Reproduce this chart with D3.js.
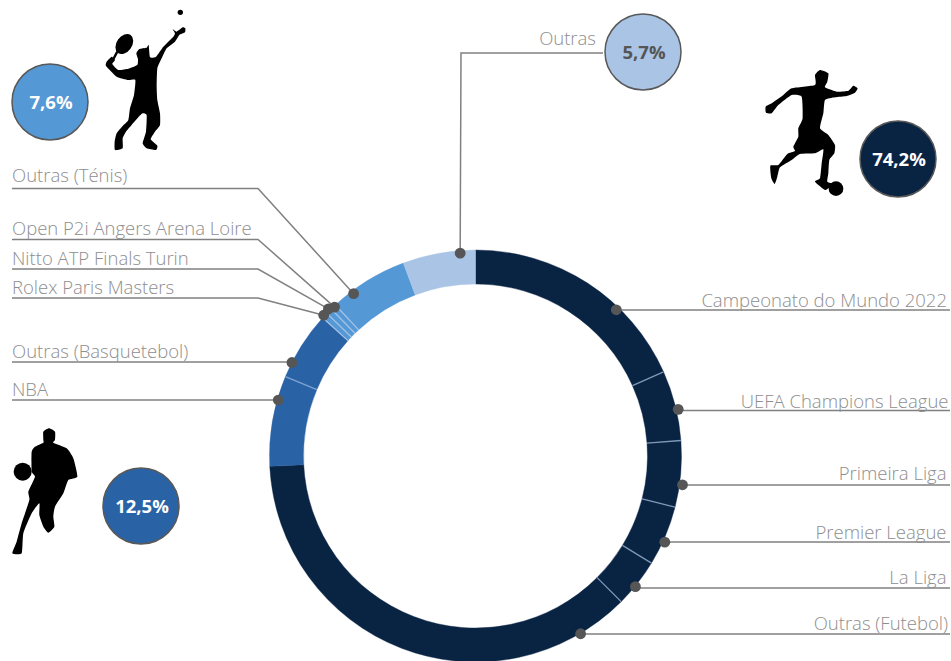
<!DOCTYPE html>
<html>
<head>
<meta charset="utf-8">
<script src="https://cdn.jsdelivr.net/npm/d3@7"></script>
<style>
  html, body { margin: 0; padding: 0; background: #fff; }
  svg { display: block; font-family: "Open Sans", sans-serif; }
</style>
</head>
<body>
<svg id="chart"></svg>
<script>
// slices, clockwise from 12 o'clock
const names = ['Campeonato do Mundo 2022', 'UEFA Champions League', 'Primeira Liga', 'Premier League', 'La Liga', 'Outras (Futebol)',
  'NBA', 'Outras (Basquetebol)',
  'Rolex Paris Masters', 'Nitto ATP Finals Turin', 'Open P2i Angers Arena Loire', 'Outras (Ténis)',
  'Outras']
const values = [18.3, 5.5, 5.2, 4.7, 3.8, 36.7, 7.1, 5.4, 0.47, 0.47, 0.46, 6.2, 5.7]
const sports = ['f', 'f', 'f', 'f', 'f', 'f', 'b', 'b', 't', 't', 't', 't', 'o']
// where each leader touches the ring, in % of the ring
const pointerAt = [12.2, 21.4, 27.2, 31.8, 35.9, 41.5, 79.4, 82.5, 86.9, 87.5, 87.94, 89.75, 98.8]

const sportKeys = ['f', 'b', 't', 'o']
const sportTotals = ['74,2%', '12,5%', '7,6%', '5,7%']
const sportColors = ['#092343', '#2a62a6', '#5598d6', '#a9c4e5']

// layout of the leader lines, same order as names
const pointerR = [203, 208, 209, 208, 206.5, 206.5, 205, 206, 207, 208, 205, 203, 203.5]
const labelY = [310, 410.5, 485, 542, 588, 634, 400, 362, 298, 269, 239.5, 188.5, 53]
const baseY = [307, 408, 480, 539, 584, 630, 395.5, 358, 293.5, 265, 235, 182, 45]
const endX = [947, 948.5, 946.5, 946.5, 946.5, 948]
const elbowX = [null, null, null, null, null, null, null, null, 258, 258, 258, 258, 461]

const bubbles = { f: [898, 159], b: [141, 506], t: [50, 102], o: [643, 52] }

const tennisBody = [[518,88],[530,95],[548,82],[556,85],[555,97],[538,105],[525,125],[500,145],[485,175],[472,205],[470,260],[472,300],[480,340],[480,375],[465,395],[452,418],[472,437],[468,450],[440,445],[428,430],[438,395],[440,345],[428,340],[415,352],[395,375],[378,395],[368,415],[368,445],[345,450],[344,425],[350,400],[368,378],[385,360],[390,325],[402,285],[406,240],[385,240],[350,230],[318,198],[320,185],[335,170],[345,180],[337,192],[355,210],[385,206],[412,195],[414,178],[409,160],[418,147],[440,143],[446,135],[450,172],[468,170],[490,140],[520,110],[525,100]]
const footballBody = [[345,105],[345,75],[360,60],[385,70],[382,95],[375,112],[410,125],[445,122],[460,107],[473,115],[465,128],[440,138],[405,142],[375,150],[370,190],[360,235],[385,255],[405,285],[403,310],[388,330],[385,370],[382,395],[400,402],[385,415],[375,420],[345,395],[360,385],[365,340],[370,298],[345,310],[300,312],[275,330],[240,352],[232,380],[224,402],[214,385],[211,347],[235,345],[262,312],[285,303],[280,290],[295,260],[295,235],[308,205],[305,140],[275,135],[235,165],[215,190],[198,188],[197,170],[215,160],[250,135],[275,115]]
const basketBody = [[130,90],[130,65],[147,55],[165,65],[165,90],[160,98],[200,115],[220,145],[232,200],[205,210],[190,250],[165,290],[160,320],[163,350],[145,368],[130,350],[118,315],[118,280],[95,310],[70,370],[65,430],[37,430],[50,395],[65,340],[88,270],[85,245],[105,200],[95,185],[95,125],[105,110],[130,98]]

const width = 951, height = 661
const cx = 475.5, cy = 456, outer = 206, inner = 172
const textGrey = '#8e8e8e', lineGrey = '#808080', dotGrey = '#565656'

const svg = d3.select('#chart').attr('width', width).attr('height', height)
const color = d3.scaleOrdinal().domain(sportKeys).range(sportColors)
const angle = d3.scaleLinear().domain([0, 100]).range([0, 2 * Math.PI])

const ring = svg.append('g').attr('transform', `translate(${cx},${cy})`)
const pie = d3.pie().value(d => d).sort(null).padAngle(0)
const arc = d3.arc().innerRadius(inner).outerRadius(outer)
const slices = pie(values)

ring.selectAll('.slice').data(slices).enter()
  .append('path')
  .attr('class', 'slice')
  .attr('d', arc)
  .attr('fill', (d, i) => color(sports[i]))
  .attr('stroke', (d, i) => color(sports[i]))
  .attr('stroke-width', 0.4)

// thin separators between slices of one sport (and basket / tennis)
const seps = slices.filter((d, i) => i < slices.length - 1 && (sports[i] === sports[i + 1] || sports[i] === 'b' && sports[i + 1] === 't'))
ring.selectAll('.sep').data(seps).enter()
  .append('line')
  .attr('class', 'sep')
  .attr('x1', d => inner * Math.sin(d.endAngle))
  .attr('y1', d => -inner * Math.cos(d.endAngle))
  .attr('x2', d => outer * Math.sin(d.endAngle))
  .attr('y2', d => -outer * Math.cos(d.endAngle))
  .attr('stroke', d => d.index >= 7 ? '#a3c3e6' : d.index === 6 ? '#7fa3d0' : '#7f97b8')
  .attr('stroke-width', 1.3)

// leaders
const dotPos = pointerAt.map((p, i) => [cx + pointerR[i] * Math.sin(angle(p)), cy - pointerR[i] * Math.cos(angle(p))])

const leader = names.map((n, i) => {
  const [dx, dy] = dotPos[i]
  if (i < 6) return [[dx, labelY[i]], [950, labelY[i]]]
  if (i < 8) return [[12, labelY[i]], [dx, labelY[i]]]
  if (i < 12) return [[12, labelY[i]], [elbowX[i], labelY[i]], [dx, dy]]
  return [[603, labelY[i]], [elbowX[i], labelY[i]], [dx, dy]]
})

svg.selectAll('.leader').data(leader).enter()
  .append('path')
  .attr('class', 'leader')
  .attr('d', d3.line())
  .attr('fill', 'none')
  .attr('stroke', lineGrey)
  .attr('stroke-width', 1.5)

svg.selectAll('.dot').data(dotPos).enter()
  .append('circle')
  .attr('class', 'dot')
  .attr('cx', d => d[0])
  .attr('cy', d => d[1])
  .attr('r', 5.4)
  .attr('fill', dotGrey)

svg.selectAll('.label').data(names).enter()
  .append('text')
  .attr('class', 'label')
  .attr('x', (d, i) => i < 6 ? endX[i] : i < 12 ? 12 : 596)
  .attr('y', (d, i) => baseY[i])
  .attr('text-anchor', (d, i) => i < 6 || i === 12 ? 'end' : 'start')
  .attr('font-size', 18.5)
  .attr('font-weight', 300)
  .attr('fill', textGrey)
  .text(d => d)

// sport totals
const bubble = svg.selectAll('.bubble').data(sportKeys).enter()
  .append('g')
  .attr('class', 'bubble')
  .attr('transform', d => `translate(${bubbles[d]})`)
bubble.append('circle')
  .attr('r', 38)
  .attr('fill', d => color(d))
  .attr('stroke', '#585858')
  .attr('stroke-width', 1.5)
bubble.append('text')
  .attr('text-anchor', 'middle')
  .attr('dx', 1)
  .attr('dy', 6.5)
  .attr('font-size', 18.5)
  .attr('font-weight', 700)
  .attr('fill', d => d === 'o' ? '#555' : '#fff')
  .text((d, i) => sportTotals[i])

// silhouettes
const outline = d3.line().curve(d3.curveCardinalClosed.tension(0.5))
const fig = (x, y) => svg.append('g').attr('transform', `translate(${x},${y}) scale(${1 / 3})`)

const tennis = fig(0, 0)
tennis.append('path').attr('d', outline(tennisBody))
tennis.append('circle').attr('cx', 541).attr('cy', 37).attr('r', 8)
tennis.append('ellipse').attr('cx', 373).attr('cy', 132).attr('rx', 23).attr('ry', 33).attr('transform', 'rotate(35 373 132)')
tennis.append('line').attr('x1', 336).attr('y1', 185).attr('x2', 352).attr('y2', 155).attr('stroke', '#000').attr('stroke-width', 7)

const football = fig(700, 50)
football.append('path').attr('d', outline(footballBody))
football.append('circle').attr('cx', 408).attr('cy', 416).attr('r', 22)

const basket = fig(0, 410)
basket.append('path').attr('d', outline(basketBody))
basket.append('circle').attr('cx', 68).attr('cy', 185).attr('r', 27)
</script>
</body>
</html>
